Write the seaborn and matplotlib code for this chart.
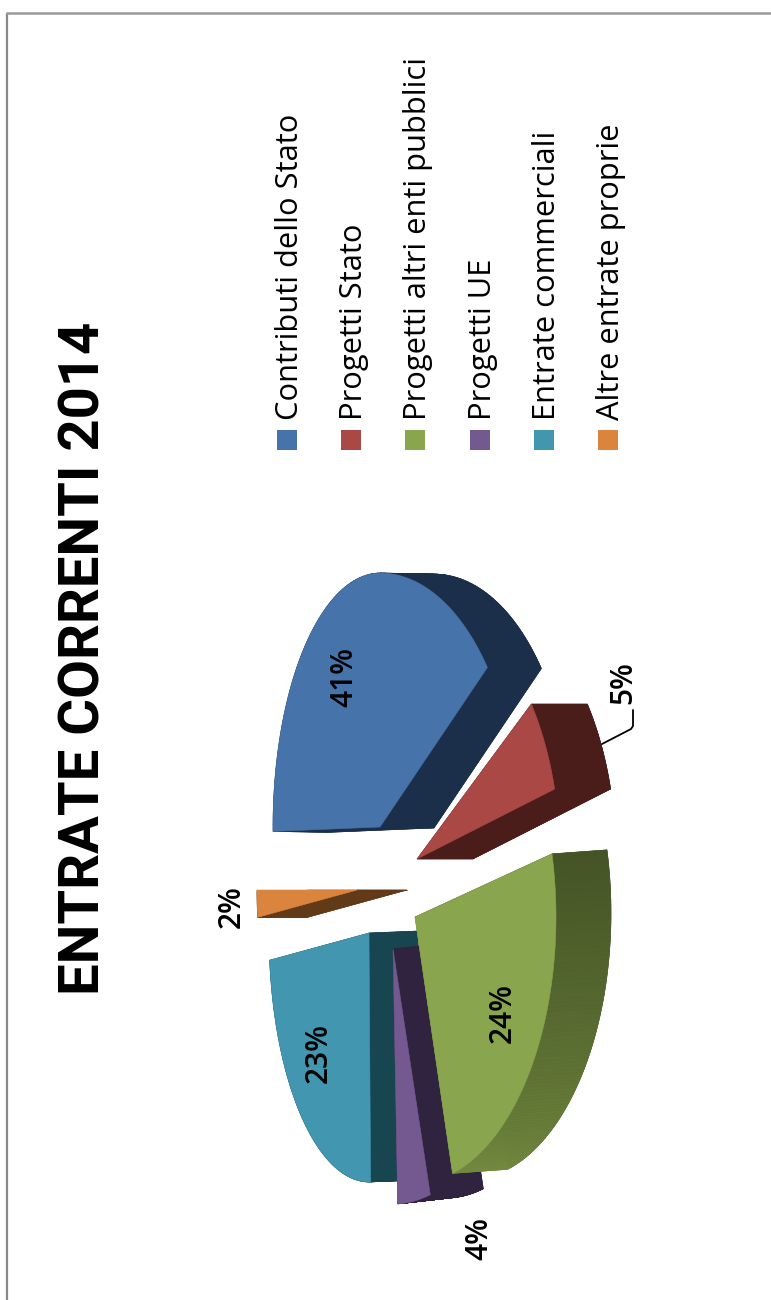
import numpy as np
import matplotlib
matplotlib.use("Agg")
import matplotlib.pyplot as plt
from matplotlib.colors import to_rgb
from matplotlib.patches import Polygon, Rectangle
import seaborn as sns

# Bilancio: entrate correnti per fonte
title = "ENTRATE CORRENTI 2014"
categories = ["Contributi dello Stato", "Progetti Stato", "Progetti altri enti pubblici",
              "Progetti UE", "Entrate commerciali", "Altre entrate proprie"]
shares = [41, 5, 24, 4, 23, 2]
share_labels = ["41%", "5%", "24%", "4%", "23%", "2%"]

face_colors = ["#4673aa", "#aa4845", "#89a54e", "#73598f", "#4296b0", "#db843d"]
wall_colors_a = ["#1b2f4b", "#4a1d1a", "#445426", "#2f2340", "#174550", "#633a17"]
wall_colors_b = ["#1b2f4b", "#4a1d1a", "#73893f", "#2f2340", "#174550", "#633a17"]

# Exploded slice geometry in figure pixels: tip of each slice, ellipse radii,
# extrusion of the wall and a small correction of the projected slice edges.
tips = [(380, 827), (417, 859), (415, 917), (393, 949), (369, 933), (357, 890)]
radii_far = [107, 140, 141, 100, 100, 100]
radii_near = [138, 143, 141, 140, 100, 100]
radii_long = [254, 258, 266, 255, 249, 250]
extrusion = [(54, 1), (56, 0), (55, -4), (53, -6), (49, -2), (50, 0)]
edge_shift = [(-1, -8), (-6, -3), (-1, 0), (0, -1), (0, 1), (1, 0)]
draw_order = [5, 4, 3, 2, 0, 1]

label_spots = [(344, 677), (623, 683), (503, 1013), (479, 1238), (319, 1053), (232, 907)]

W, H = 771, 1300
sns.set_theme(style="white")
plt.rcParams["font.family"] = ["Open Sans", "DejaVu Sans"]
palette = sns.color_palette(face_colors)

fig = plt.figure(figsize=(W / 100, H / 100), dpi=100, facecolor="white")
ax = fig.add_axes([0, 0, 1, 1])
ax.set_xlim(0, W)
ax.set_ylim(H, 0)
ax.axis("off")

# Page frame
ax.plot([7, 7], [H, 13], color="#8a8a8a", lw=1.6, solid_capstyle="butt")
ax.plot([6, W], [13, 13], color="#9a9a9a", lw=1.8, solid_capstyle="butt")

# Slice angles run clockwise from the far side of the disc
total = sum(shares)
edges = np.concatenate([[0], np.cumsum(shares)]) / total * 360.0


def arc_points(i):
    a0 = edges[i] + edge_shift[i][0]
    a1 = edges[i + 1] + edge_shift[i][1]
    t = np.radians(np.linspace(a0, a1, 90))
    cx, cy = tips[i]
    c, s = np.cos(t), np.sin(t)
    rx = np.where(c > 0, radii_far[i], radii_near[i])
    return np.column_stack([cx - rx * c, cy - radii_long[i] * s])


def mix(a, b, f):
    a, b = np.array(to_rgb(a)), np.array(to_rgb(b))
    return tuple(a + (b - a) * f)


def add_poly(pts, color, z):
    ax.add_patch(Polygon(pts, closed=True, facecolor=color, edgecolor=color, lw=0.4, zorder=z))


for z, i in enumerate(draw_order):
    base = 2 + z * 2
    arc = arc_points(i)
    tip = np.array(tips[i], dtype=float)
    sh = np.array(extrusion[i], dtype=float)
    # underside and the two cut walls
    add_poly(np.vstack([tip + sh, arc + sh]), wall_colors_a[i], base)
    add_poly(np.vstack([tip, arc[0], arc[0] + sh, tip + sh]), wall_colors_a[i], base)
    add_poly(np.vstack([tip, arc[-1], arc[-1] + sh, tip + sh]), wall_colors_b[i], base)
    # curved outer wall, shaded along the arc
    for k in range(len(arc) - 1):
        col = mix(wall_colors_a[i], wall_colors_b[i], k / (len(arc) - 2))
        add_poly(np.vstack([arc[k], arc[k + 1], arc[k + 1] + sh, arc[k] + sh]), col, base)
    add_poly(np.vstack([tip, arc]), palette[i], base + 1)

# Title, set sideways like the rest of the page
text_kw = dict(rotation=90, rotation_mode="anchor", color="black", zorder=30)
ax.text(99, 995, title, fontsize=40.5, fontweight="bold", family="Roboto",
        ha="left", va="baseline", **text_kw)

# Legend
legend_x = [277, 341, 405, 470, 534, 598]
for x, name, col in zip(legend_x, categories, palette):
    ax.add_patch(Rectangle((x, 430), 20, 20, facecolor=col, edgecolor="none", zorder=30))
    ax.text(x + 21, 420, name, fontsize=22.2, ha="left", va="baseline", **text_kw)

# Percentage labels
for (x, y), lab in zip(label_spots, share_labels):
    ax.text(x, y, lab, fontsize=21.5, fontweight="semibold", ha="center", va="center",
            rotation=90, color="black", zorder=30)

# Leader of the small red slice
ax.plot([602, 631, 633, 633], [744, 729, 726, 710], color="black", lw=1.3, zorder=30)

fig.savefig("out.png", dpi=100, facecolor="white")
